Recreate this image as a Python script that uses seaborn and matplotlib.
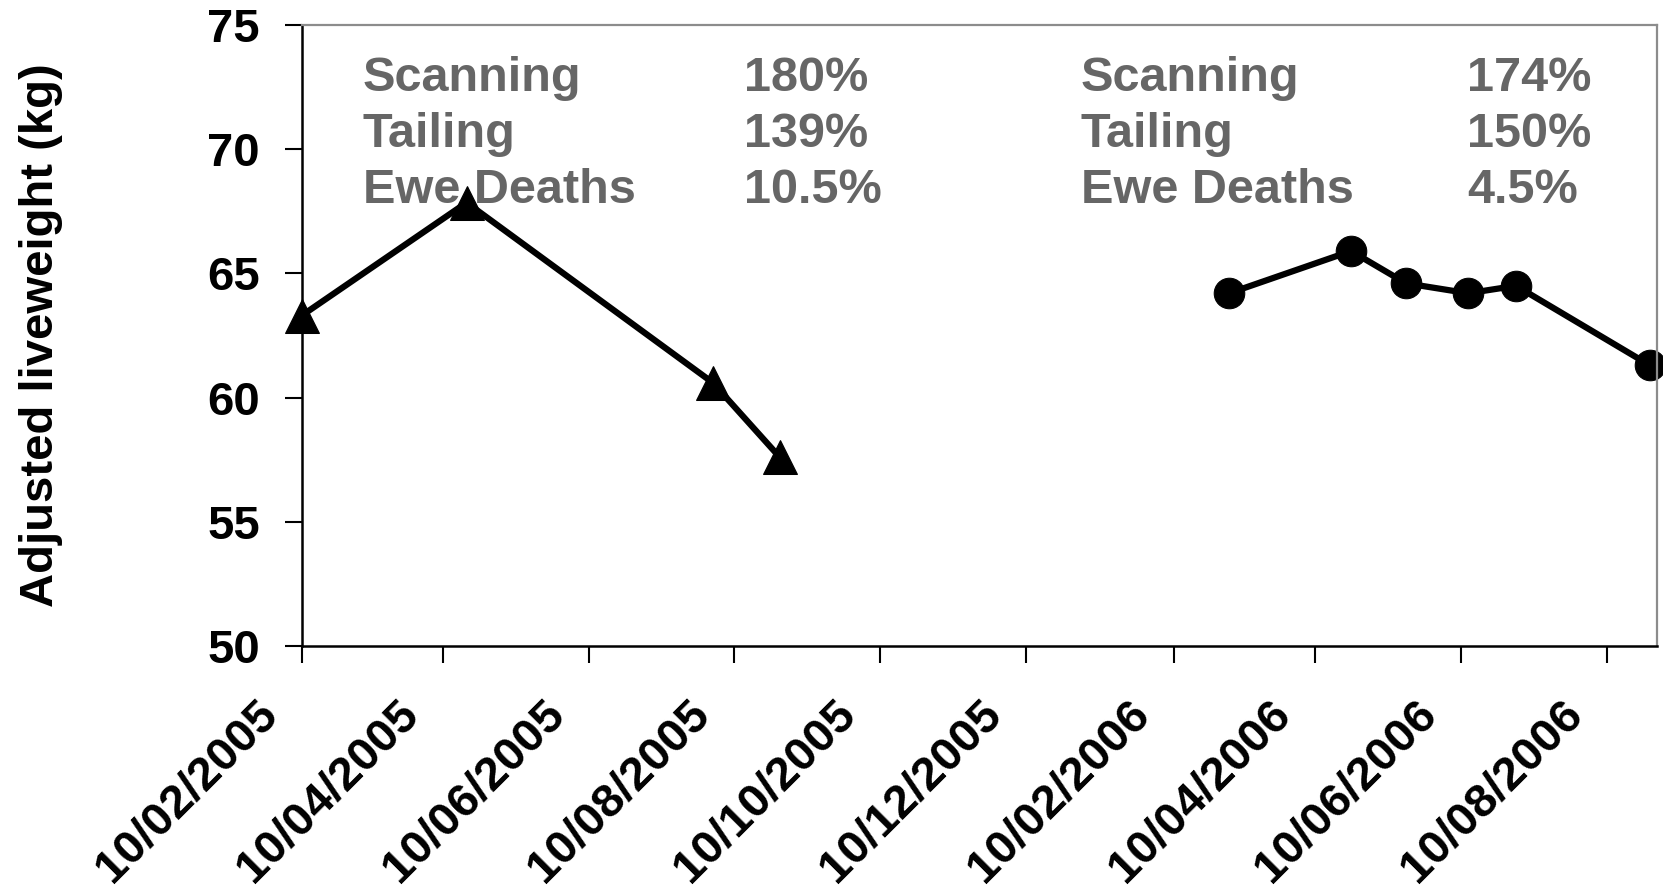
import matplotlib
matplotlib.use("Agg")
import matplotlib.pyplot as plt
import matplotlib.dates as mdates
import matplotlib.transforms as mtransforms
import seaborn as sns
import pandas as pd

# ---- data ----
dates_2005 = ["2005-02-10", "2005-04-20", "2005-08-01", "2005-08-29"]
weight_2005 = [63.3, 67.85, 60.6, 57.6]

dates_2006 = ["2006-03-05", "2006-04-25", "2006-05-18", "2006-06-13", "2006-07-03", "2006-08-28"]
weight_2006 = [64.2, 65.9, 64.6, 64.2, 64.5, 61.3]

tick_dates = ["2005-02-10", "2005-04-10", "2005-06-10", "2005-08-10", "2005-10-10",
              "2005-12-10", "2006-02-10", "2006-04-10", "2006-06-10", "2006-08-10"]
x_min, x_max = "2005-02-10", "2006-08-31"
y_ticks = [50, 55, 60, 65, 70, 75]

stat_labels = ["Scanning", "Tailing", "Ewe Deaths"]
stats_2005 = ["180%", "139%", "10.5%"]
stats_2006 = ["174%", "150%", "4.5%"]

df05 = pd.DataFrame({"date": pd.to_datetime(dates_2005), "w": weight_2005})
df06 = pd.DataFrame({"date": pd.to_datetime(dates_2006), "w": weight_2006})

sns.set_style("white")
plt.rcParams["font.family"] = ["Liberation Sans", "DejaVu Sans"]
plt.rcParams["font.weight"] = "bold"
plt.rcParams["text.color"] = "black"
plt.rcParams["axes.labelcolor"] = "black"
plt.rcParams["xtick.color"] = "black"
plt.rcParams["ytick.color"] = "black"

fig = plt.figure(figsize=(16.63, 8.86), dpi=100)
ax = fig.add_axes([0.1814, 0.2709, 0.8150, 0.7009])

sns.lineplot(data=df05, x="date", y="w", ax=ax, color="black", linewidth=4.5,
             marker="^", markersize=24, markeredgecolor="black", clip_on=False)
sns.lineplot(data=df06, x="date", y="w", ax=ax, color="black", linewidth=4.5,
             marker="o", markersize=22, markeredgecolor="black", clip_on=False)

ax.set_xlim(pd.Timestamp(x_min), pd.Timestamp(x_max))
ax.set_ylim(50, 75)
ax.set_yticks(y_ticks)
ax.set_yticklabels([str(v) for v in y_ticks], fontsize=34, fontweight="bold", color="black")
ax.set_xticks(pd.to_datetime(tick_dates))
ax.xaxis.set_major_formatter(mdates.DateFormatter("%d/%m/%Y"))

ax.tick_params(axis="x", direction="out", length=12, width=1.5, colors="black", pad=32,
               bottom=True, labelsize=34)
ax.tick_params(axis="y", direction="out", length=12, width=1.5, colors="black", pad=18,
               left=True)

offset = mtransforms.ScaledTranslation(-31 / 100, 0, fig.dpi_scale_trans)
for lbl in ax.get_xticklabels():
    lbl.set_rotation(45)
    lbl.set_ha("right")
    lbl.set_va("center")
    lbl.set_rotation_mode("anchor")
    lbl.set_fontweight("bold")
    lbl.set_transform(lbl.get_transform() + offset)

ax.set_xlabel("")
ax.set_ylabel("Adjusted liveweight (kg)", fontsize=34, fontweight="bold", color="black")
ax.yaxis.set_label_coords(-0.176, 0.5)

for side in ["left", "bottom"]:
    ax.spines[side].set_color("black")
    ax.spines[side].set_linewidth(1.8)
for side in ["top", "right"]:
    ax.spines[side].set_color("#8c8c8c")
    ax.spines[side].set_linewidth(1.6)
    ax.spines[side].set_visible(True)

grey = "#666666"
row_y = [0.8937, 0.8035, 0.7134]
for lab, v5, v6, yy in zip(stat_labels, stats_2005, stats_2006, row_y):
    ax.text(0.0452, yy, lab, transform=ax.transAxes, color=grey, fontsize=35,
            fontweight="bold", va="baseline", ha="left")
    ax.text(0.3266, yy, v5, transform=ax.transAxes, color=grey, fontsize=35,
            fontweight="bold", va="baseline", ha="left")
    ax.text(0.5750, yy, lab, transform=ax.transAxes, color=grey, fontsize=35,
            fontweight="bold", va="baseline", ha="left")
    ax.text(0.8600, yy, v6, transform=ax.transAxes, color=grey, fontsize=35,
            fontweight="bold", va="baseline", ha="left")

fig.savefig("out.png", dpi=100)
